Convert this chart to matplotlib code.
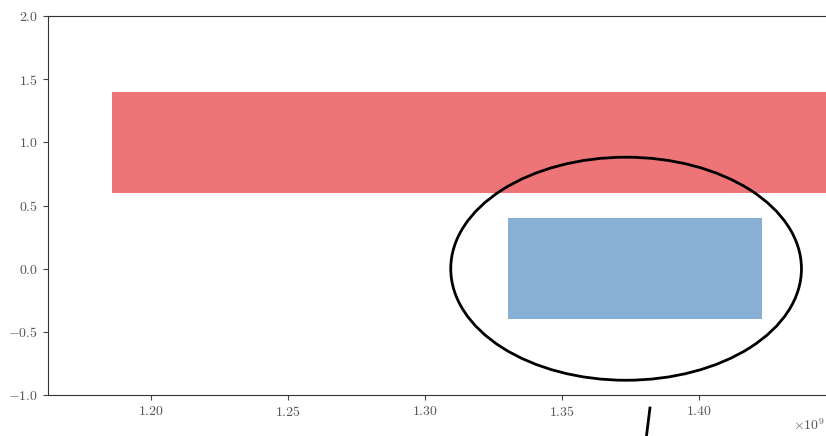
import matplotlib
matplotlib.use("Agg")
import matplotlib.pyplot as plt
from matplotlib.patches import Ellipse

plt.rcParams["font.family"] = "serif"
plt.rcParams["font.serif"] = ["cmr10"]
plt.rcParams["mathtext.fontset"] = "cm"
plt.rcParams["axes.formatter.use_mathtext"] = True

# bars: row position, start, end (x in units of 1e9)
rows = [1.0, 0.0]
starts = [1.1858e9, 1.3303e9]
ends = [1.47e9, 1.4230e9]
colors = ["#EE7577", "#87B0D4"]

# ellipse highlight
ell_center = (1.3734e9, 0.0)
ell_size = (0.128e9, 1.766)

# pointer line below the axes
pointer_x = [1.3821e9, 1.3808e9]
pointer_y = [-1.103, -1.33]


def main():
    fig = plt.figure(figsize=(8.26, 4.36), dpi=100)
    ax = fig.add_axes([0.0581, 0.094, 0.949, 0.869])

    widths = [e - s for s, e in zip(starts, ends)]
    ax.barh(rows, widths, left=starts, height=0.8, color=colors)

    ax.add_patch(Ellipse(ell_center, ell_size[0], ell_size[1],
                         fill=False, edgecolor="black", linewidth=2))
    ax.plot(pointer_x, pointer_y, color="black", linewidth=2, clip_on=False)

    ax.set_xlim(1.1624e9, 1.4485e9)
    ax.set_ylim(-1.0, 2.0)
    ax.set_xticks([1.20e9, 1.25e9, 1.30e9, 1.35e9, 1.40e9])
    ax.tick_params(labelsize=10, colors="#444444", labelcolor="#555555")
    for s in ax.spines.values():
        s.set_color("#333333")

    # offset label placed by hand so it stays inside the picture
    ax.xaxis.get_offset_text().set_visible(False)
    fig.text(0.998, 0.008, r"$\times10^{9}$", ha="right", va="bottom",
             fontsize=10, color="#555555")

    fig.savefig("out.png", dpi=100)


if __name__ == "__main__":
    main()
